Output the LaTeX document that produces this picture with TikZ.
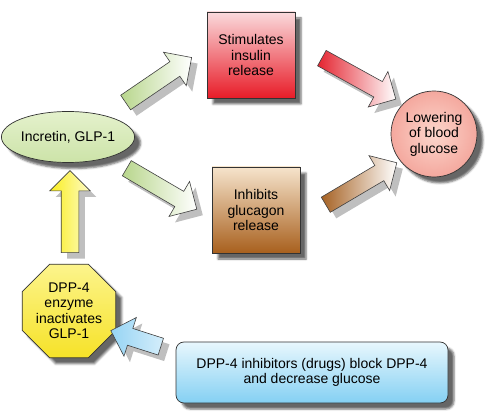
\documentclass[tikz,border=0pt]{standalone}
\usepackage{fontspec}
\setmainfont{Liberation Sans}
\usetikzlibrary{shapes.geometric,shapes.arrows,shadows.blur,calc}

\definecolor{glpT}{RGB}{228,241,204}
\definecolor{glpB}{RGB}{204,227,168}
\definecolor{insT}{RGB}{250,218,220}
\definecolor{insB}{RGB}{232,28,40}
\definecolor{glcT}{RGB}{246,228,204}
\definecolor{glcB}{RGB}{168,96,30}
\definecolor{lowI}{RGB}{252,214,204}
\definecolor{lowO}{RGB}{244,168,158}
\definecolor{dppT}{RGB}{252,244,140}
\definecolor{dppB}{RGB}{246,226,40}
\definecolor{drugT}{RGB}{232,247,253}
\definecolor{drugB}{RGB}{132,208,243}
\definecolor{grnA}{RGB}{184,214,140}
\definecolor{redA}{RGB}{228,36,48}
\definecolor{brnA}{RGB}{166,98,36}
\definecolor{yelA}{RGB}{250,238,30}
\definecolor{bluA}{RGB}{150,212,244}

\newcommand{\fatarrow}[4]{%
  \path let \p1=($(#2)-(#1)$) in ([shift={(6,6)}]#1) -- node[fatbody, fill=black!25, draw=none, minimum height={veclen(\x1,\y1)}] {} ([shift={(6,6)}]#2);
  \path let \p1=($(#2)-(#1)$) in (#1) -- node[fatbody, minimum height={veclen(\x1,\y1)}, #3] (#4) {} (#2);
}

\begin{document}
\begin{tikzpicture}[x=1pt,y=-1pt,
  box/.style={draw=black!80, line width=0.7pt, align=center, inner sep=0pt,
    font=\fontsize{14}{15.5}\selectfont,
    blur shadow={shadow xshift=6pt, shadow yshift=-6pt, shadow blur radius=2pt, shadow opacity=60}},
  fatbody/.style={single arrow, draw=black!75, line width=0.6pt, inner xsep=0pt, inner ysep=8.5pt,
    single arrow head extend=11.5pt, sloped, allow upside down}]
\useasboundingbox (0,0) rectangle (495,419);

\node[box, ellipse, minimum width=113, minimum height=51, top color=glpT, bottom color=glpB] (glp) at (68,137) {Incretin, GLP-1};
\node[box, minimum width=88, minimum height=86, top color=insT, bottom color=insB] (insulin) at (251,55) {Stimulates\\insulin\\release};
\node[box, minimum width=88, minimum height=86, top color=glcT, bottom color=glcB] (glucagon) at (256,210) {Inhibits\\glucagon\\release};
\node[box, circle, minimum size=86, inner color=lowI, outer color=lowO] (lower) at (434,134) {Lowering\\of blood\\glucose};
\node[box, regular polygon, regular polygon sides=8, minimum size=90, top color=dppT, bottom color=dppB] (dpp) at (69,311) {DPP-4\\enzyme\\inactivates\\GLP-1};
\node[box, rounded corners=8pt, minimum width=272, minimum height=61, top color=drugT, bottom color=drugB] (drug) at (312,372.5) {DPP-4 inhibitors (drugs) block DPP-4\\and decrease glucose};

\coordinate (t1) at (122,105); \coordinate (h1) at (188,60);
\coordinate (t2) at (123,166); \coordinate (h2) at (193,207);
\coordinate (t3) at (318,56);  \coordinate (h3) at (392,97);
\coordinate (t4) at (322,207); \coordinate (h4) at (393,165);
\coordinate (t5) at (70,257);  \coordinate (h5) at (70,175);
\coordinate (t6) at (165,348); \coordinate (h6) at (115,332);

\fatarrow{t1}{h1}{left color=grnA, right color=white}{toinsulin}
\fatarrow{t2}{h2}{left color=grnA, right color=white}{toglucagon}
\fatarrow{t3}{h3}{left color=redA, right color=white}{insulinlow}
\fatarrow{t4}{h4}{left color=brnA, right color=white}{glucagonlow}
\fatarrow{t5}{h5}{left color=yelA, right color=yelA!25}{dppglp}
\fatarrow{t6}{h6}{left color=bluA, right color=bluA!40}{drugdpp}
\end{tikzpicture}
\end{document}
